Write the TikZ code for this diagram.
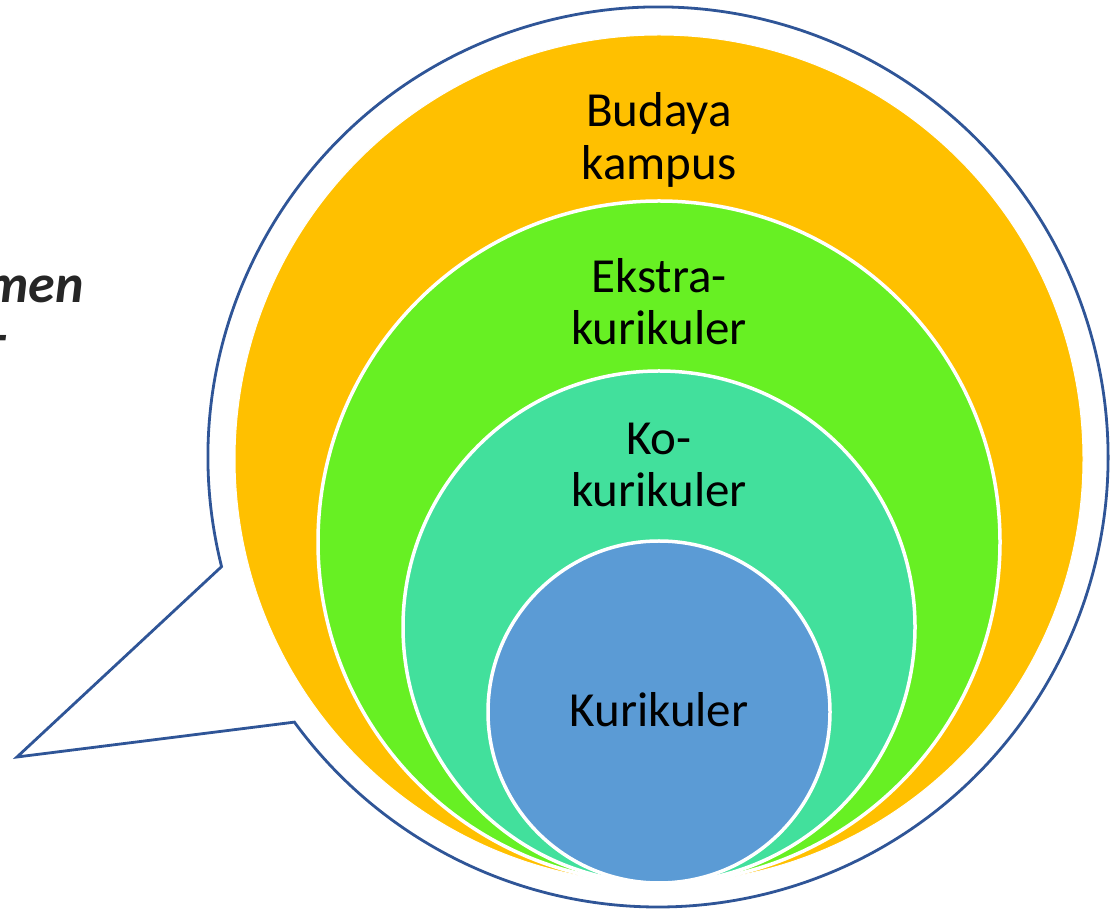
\documentclass[tikz,border=0pt]{standalone}
\usepackage{fontspec}
\setmainfont{Carlito}
\usetikzlibrary{calc}
\definecolor{bubbleblue}{HTML}{2F5597}
\definecolor{ringorange}{HTML}{FFC000}
\definecolor{ringgreen}{HTML}{67F023}
\definecolor{ringteal}{HTML}{42E09C}
\definecolor{ringblue}{HTML}{5B9BD5}
\definecolor{sidegray}{HTML}{262626}
\tikzset{
  ring/.style={draw=white, line width=3.5pt},
  lbl/.style={anchor=base, inner sep=0pt, font=\fontsize{49}{55}\selectfont, text=black},
  sidetext/.style={anchor=base east, inner sep=0pt, font=\fontsize{54}{60}\selectfont\bfseries\itshape, text=sidegray}
}
\begin{document}
\begin{tikzpicture}[x=1pt,y=1pt]
\useasboundingbox (0,0) rectangle (1118,910);
\clip (0,0) rectangle (1118,910);
% speech bubble
\coordinate (bc) at (658,453);
\coordinate (tip) at (17,153);
\draw[bubbleblue, line width=2.8pt, fill=white, line join=miter]
  ($(bc)+(194.1:450)$) coordinate (tailA)
  arc[start angle=194.1, end angle=-143.9, radius=450] coordinate (tailB)
  -- (tip) -- cycle;
% nested circles
\node[circle, fill=ringorange, draw=white, line width=1pt, minimum size=848pt, inner sep=0pt] (budaya) at (659,451) {};
\node[circle, fill=ringgreen, ring, minimum size=682pt, inner sep=0pt] (ekstra) at (659,368) {};
\node[circle, fill=ringteal, ring, minimum size=512pt, inner sep=0pt] (ko) at (659,283) {};
\node[circle, fill=ringblue, ring, minimum size=342pt, inner sep=0pt] (kuri) at (659,198) {};
% labels
\node[lbl] (t1a) at (659,783) {Budaya};
\node[lbl] (t1b) at (659,730) {kampus};
\node[lbl] (t2a) at (659,617) {Ekstra-};
\node[lbl] (t2b) at (659,565) {kurikuler};
\node[lbl] (t3a) at (659,455) {Ko-};
\node[lbl] (t3b) at (659,403) {kurikuler};
\node[lbl] (t4) at (659,183) {Kurikuler};
% cut-off side text (cut by the picture's left edge, as in the reference)
\node[sidetext] (side1) at (84,607) {men};
\node[sidetext] (side2) at (8,556) {-};
\end{tikzpicture}
\end{document}
